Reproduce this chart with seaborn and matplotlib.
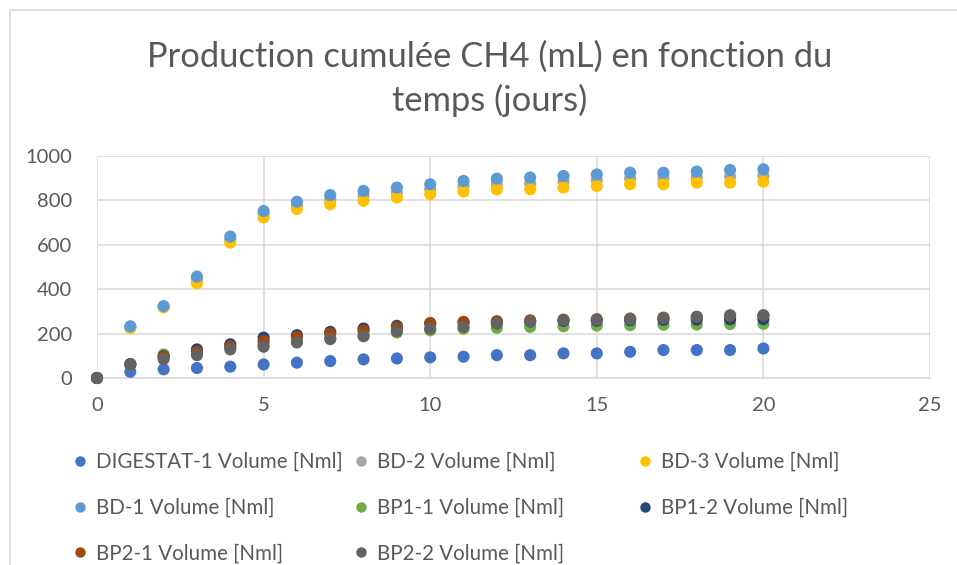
import matplotlib
matplotlib.use("Agg")
import matplotlib.pyplot as plt
from matplotlib.lines import Line2D
import pandas as pd
import seaborn as sns

# Data (cumulative CH4, mL)
days = list(range(21))
digestat_1 = [0, 28, 39, 45, 51, 61, 69, 76, 84, 88, 93, 96, 103, 103, 111, 111, 118, 126, 126, 126, 133]
bd_2 = [0, 229, 321, 442, 623, 737, 777, 803, 820, 835, 850, 864, 874, 876, 884, 891, 899, 899, 905, 908, 912]
bd_3 = [0, 225, 318, 427, 610, 723, 761, 783, 798, 813, 828, 840, 850, 850, 858, 865, 873, 873, 880, 880, 885]
bd_1 = [0, 233, 324, 457, 637, 752, 794, 824, 843, 858, 873, 888, 898, 903, 910, 917, 925, 925, 930, 937, 940]
bp1_1 = [0, 60, 106, 118, 138, 152, 165, 180, 193, 205, 215, 222, 226, 230, 233, 236, 238, 240, 241, 243, 244]
bp1_2 = [0, 62, 98, 129, 152, 182, 193, 208, 223, 235, 245, 250, 252, 255, 257, 258, 260, 262, 263, 264, 265]
bp2_1 = [0, 62, 95, 118, 142, 166, 185, 200, 213, 228, 248, 253, 256, 260, 263, 265, 268, 272, 276, 280, 281]
bp2_2 = [0, 63, 85, 103, 129, 141, 160, 175, 188, 211, 223, 230, 245, 253, 260, 262, 265, 270, 275, 283, 283]

series_names = [
    "DIGESTAT-1 Volume [Nml]", "BD-2 Volume [Nml]", "BD-3 Volume [Nml]",
    "BD-1 Volume [Nml]", "BP1-1 Volume [Nml]", "BP1-2 Volume [Nml]",
    "BP2-1 Volume [Nml]", "BP2-2 Volume [Nml]",
]
series_values = [digestat_1, bd_2, bd_3, bd_1, bp1_1, bp1_2, bp2_1, bp2_2]
colors = ["#4472C4", "#A5A5A5", "#FFC000", "#5B9BD5",
          "#70AD47", "#264478", "#9E480E", "#636363"]

x_ticks = [0, 5, 10, 15, 20, 25]
y_ticks = [0, 200, 400, 600, 800, 1000]

# long table, series order = drawing order (later on top)
df = pd.concat(
    [pd.DataFrame({"jour": days, "volume": v, "serie": n})
     for n, v in zip(series_names, series_values)],
    ignore_index=True,
)

sns.set_theme(style="white")
plt.rcParams["font.family"] = ["Lato", "DejaVu Sans"]
text_col = "#595959"
grid_col = "#D9D9D9"

W, H = 957, 565
fig = plt.figure(figsize=(W / 100, H / 100), dpi=100)
ax = fig.add_axes([97 / W, 1 - 378 / H, (930 - 97) / W, (378 - 156) / H])

sns.scatterplot(
    data=df, x="jour", y="volume", hue="serie",
    hue_order=series_names, palette=colors,
    s=76, linewidth=0, alpha=1, legend=False, ax=ax, zorder=3,
)

ax.set_xlim(0, 25)
ax.set_ylim(0, 1000)
ax.set_xticks(x_ticks)
ax.set_yticks(y_ticks)
ax.set_xlabel("")
ax.set_ylabel("")
ax.grid(True, color=grid_col, linewidth=1.1, zorder=0)
ax.set_axisbelow(True)
for side in ["top", "right", "left"]:
    ax.spines[side].set_visible(False)
ax.spines["bottom"].set_color(grid_col)
ax.spines["bottom"].set_linewidth(1.1)
ax.tick_params(axis="both", length=0, labelsize=14.5, labelcolor=text_col)
ax.tick_params(axis="y", pad=18)
ax.tick_params(axis="x", pad=14)
for c in ax.collections:
    c.set_clip_on(False)

# title
fig.text(490 / W, 1 - 57 / H, "Production cumulée CH4 (mL) en fonction du",
         ha="center", va="center", fontsize=24.8, color="#595959")
fig.text(490 / W, 1 - 100 / H, "temps (jours)",
         ha="center", va="center", fontsize=24.8, color="#595959")

# chart area frame (top and left edges visible)
fig.add_artist(Line2D([10 / W, 1], [1 - 10 / H, 1 - 10 / H], color=grid_col, lw=1.2))
fig.add_artist(Line2D([10 / W, 10 / W], [0, 1 - 10 / H], color=grid_col, lw=1.2))

# legend in three equal-width columns, like Excel
handles = [Line2D([], [], marker="o", linestyle="none", markersize=7.5,
                  markerfacecolor=c, markeredgewidth=0) for c in colors]
columns = [[0, 3, 6], [1, 4, 7], [2, 5]]
col_x = [74, 355, 639]
for idx, x0 in zip(columns, col_x):
    leg = fig.legend(
        [handles[i] for i in idx], [series_names[i] for i in idx],
        loc="upper left", bbox_to_anchor=(x0 / W, 1 - 452 / H),
        frameon=False, fontsize=14.8, labelcolor=text_col,
        handlelength=0.6, handletextpad=0.45, labelspacing=1.25,
        borderpad=0, borderaxespad=0,
    )

fig.savefig("out.png", dpi=100)
